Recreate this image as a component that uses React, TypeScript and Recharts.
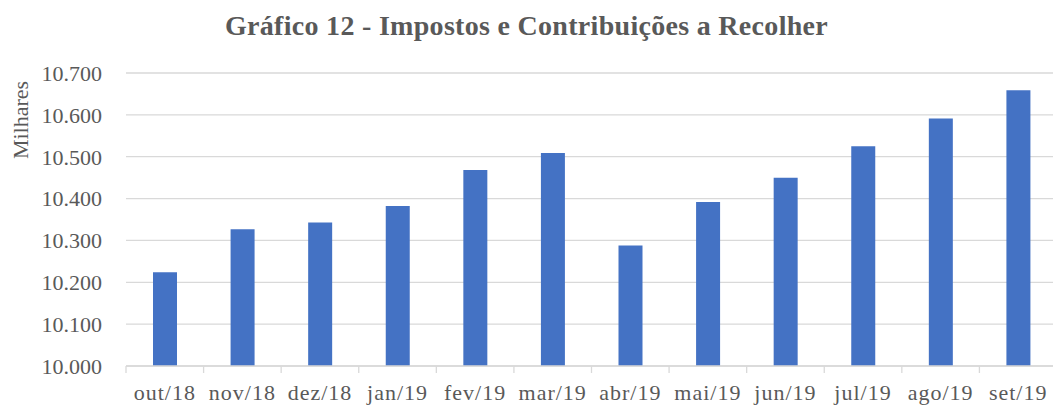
import { BarChart, Bar, XAxis, YAxis, CartesianGrid } from "recharts";

const months = [
  "out/18", "nov/18", "dez/18", "jan/19", "fev/19", "mar/19",
  "abr/19", "mai/19", "jun/19", "jul/19", "ago/19", "set/19",
];
const values = [
  10224, 10327, 10343, 10382, 10468, 10509,
  10288, 10392, 10450, 10525, 10591, 10659,
];
const yTicks = [10000, 10100, 10200, 10300, 10400, 10500, 10600, 10700];

const data = months.map((m, i) => ({ name: m, value: values[i] }));

const FONT = '"Liberation Serif", "DejaVu Serif", serif';
const TEXT = "#595959";
const GRID = "#d9d9d9";

const fmt = (v: number) => {
  const s = String(v);
  return s.slice(0, s.length - 3) + "." + s.slice(-3);
};

const W = 1060;
const H = 408;
const LEFT = 126;
const RIGHT = 3;
const BAND = (W - LEFT - RIGHT) / months.length;

function MonthTick(props: any) {
  const { x, y, payload } = props;
  const bx = x - BAND / 2;
  return (
    <g>
      <line x1={bx} y1={y} x2={bx} y2={y + 7} stroke={GRID} strokeWidth={1.3} />
      <text x={x} y={y + 34} textAnchor="middle" fill={TEXT} fontSize={22} fontFamily={FONT} letterSpacing={1}>
        {payload.value}
      </text>
    </g>
  );
}

function UnitLabel() {
  return (
    <text
      x={0}
      y={0}
      transform="translate(28, 120) rotate(-90)"
      textAnchor="middle"
      fill={TEXT}
      fontSize={22}
      fontFamily={FONT}
    >
      Milhares
    </text>
  );
}

export default function App() {
  return (
    <div style={{ position: "absolute", left: 0, top: 0, width: 1053, height: H, overflow: "hidden", background: "#fff" }}>
      <div
        style={{
          position: "absolute",
          top: 8,
          left: 0,
          width: 1060,
          textAlign: "center",
          fontFamily: FONT,
          fontWeight: "bold",
          fontSize: 28,
          color: TEXT,
          paddingRight: 7,
          boxSizing: "border-box",
          lineHeight: "36px",
          letterSpacing: 0.3,
        }}
      >
        Gráfico 12 - Impostos e Contribuições a Recolher
      </div>
      <BarChart
        width={W}
        height={H}
        data={data}
        margin={{ top: 73, right: RIGHT, left: 0, bottom: 0 }}
        barCategoryGap={0}
      >
        <CartesianGrid vertical={false} stroke={GRID} strokeWidth={1.3} />
        <XAxis
          dataKey="name"
          height={42}
          axisLine={{ stroke: GRID, strokeWidth: 1.3 }}
          tickLine={false}
          tickSize={0}
          tickMargin={0}
          interval={0}
          tick={<MonthTick />}
        />
        <YAxis
          domain={[10000, 10700]}
          ticks={yTicks}
          width={LEFT}
          axisLine={false}
          tickLine={false}
          tickSize={6}
          tickMargin={18}
          tickFormatter={fmt}
          tick={{ fill: TEXT, fontSize: 22, fontFamily: FONT }}
          allowDataOverflow
          label={<UnitLabel />}
        />
        <Bar dataKey="value" fill="#4472C4" barSize={24} isAnimationActive={false} />
      </BarChart>
    </div>
  );
}
